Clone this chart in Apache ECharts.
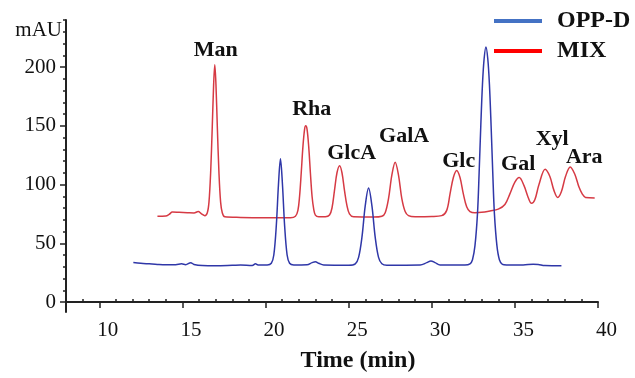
<!DOCTYPE html>
<html>
<head>
<meta charset="utf-8">
<script src="https://cdn.jsdelivr.net/npm/echarts@6.0.0/dist/echarts.min.js"></script>
<style>
  html, body { margin: 0; padding: 0; background: #fff; }
  #chart { width: 635px; height: 378px; }
</style>
</head>
<body>
<div id="chart"></div>
<script>
// MIX (red) trace
const mixTime = [13.5, 14.0, 14.2, 14.4, 14.8, 15.3, 15.7, 15.95, 16.15, 16.35, 16.5, 16.6, 16.7, 16.8, 16.88, 16.95, 17.02, 17.1, 17.2, 17.3, 17.4, 17.55, 18.5, 20.0, 21.5, 21.8, 21.95, 22.05, 22.15, 22.25, 22.35, 22.42, 22.5, 22.6, 22.7, 22.8, 22.9, 23.0, 23.2, 23.6, 23.85, 24.0, 24.15, 24.3, 24.46, 24.6, 24.75, 24.9, 25.05, 25.3, 26.5, 27.0, 27.2, 27.4, 27.6, 27.8, 28.0, 28.2, 28.4, 28.6, 29.0, 30.0, 30.6, 30.9, 31.1, 31.3, 31.5, 31.7, 31.9, 32.1, 32.3, 32.6, 33.0, 33.5, 34.0, 34.4, 34.7, 35.0, 35.26, 35.55, 35.8, 36.0, 36.2, 36.45, 36.82, 37.1, 37.35, 37.58, 37.8, 38.05, 38.33, 38.6, 38.85, 39.05, 39.25, 39.8]
const mixMAU = [73, 73.2, 74.5, 76.5, 76.3, 76, 75.8, 77, 75, 73.5, 76, 85, 110, 150, 185, 202, 185, 150, 110, 85, 76, 72.5, 72, 71.8, 71.8, 73, 78, 90, 110, 132, 147, 150, 147, 132, 110, 90, 79, 74, 72.5, 72.5, 74, 80, 95, 110, 116, 110, 95, 82, 75, 72.5, 72.3, 73, 76, 88, 108, 119, 108, 88, 77, 73.5, 72.5, 72.7, 73.5, 78, 92, 106, 112, 106, 92, 81, 77, 76, 76.3, 77.5, 79, 83, 92, 102, 106, 99, 89, 84, 87, 100, 113, 107, 95, 89, 94, 107, 115, 109, 98, 92, 89, 88.6]

// OPP-D (blue) trace
const oppTime = [12.05, 12.5, 13.0, 13.5, 14.0, 14.6, 14.95, 15.2, 15.5, 15.7, 16.2, 17.0, 18.0, 18.5, 19.2, 19.4, 19.55, 20.1, 20.35, 20.5, 20.65, 20.78, 20.9, 21.02, 21.15, 21.3, 21.45, 21.7, 22.5, 22.8, 23.0, 23.2, 23.5, 25.0, 25.4, 25.6, 25.8, 26.0, 26.2, 26.4, 26.6, 26.8, 27.0, 27.3, 29.3, 29.7, 29.95, 30.2, 30.5, 32.0, 32.3, 32.45, 32.6, 32.75, 32.85, 32.95, 33.05, 33.15, 33.26, 33.37, 33.47, 33.57, 33.67, 33.77, 33.92, 34.07, 34.25, 34.5, 35.5, 36.1, 36.4, 36.8, 37.8]
const oppMAU = [33.6, 33, 32.5, 32, 31.7, 31.7, 32.5, 31.8, 33.5, 32, 31, 30.8, 31.2, 31.5, 31, 32.5, 31.5, 31.5, 33, 40, 65, 100, 122, 100, 65, 40, 33, 31.5, 31.7, 33.5, 34.3, 33, 31.5, 31.3, 32.5, 38, 55, 82, 97, 82, 55, 38, 32.5, 31.3, 31.5, 33.5, 35, 33.5, 31.5, 31.5, 32.5, 36, 48, 75, 110, 150, 185, 207, 217, 207, 185, 150, 110, 75, 48, 36, 32, 31.5, 31.5, 32.2, 32, 31, 30.8]

// peak annotations on the MIX trace
const peakNames = ['Man', 'Rha', 'GlcA', 'GalA', 'Glc', 'Gal', 'Xyl', 'Ara']
const peakTimes = [16.95, 22.42, 24.46, 27.8, 31.5, 35.26, 36.82, 38.33]
const peakMAU = [202, 150, 116, 119, 112, 106, 113, 115]

const xTicks = [10, 15, 20, 25, 30, 35, 40]
const xMinor = [9, 11, 12, 13, 14, 16, 17, 18, 19, 21, 22, 23, 24, 26, 27, 28, 29, 31, 32, 33, 34, 36, 37, 38, 39]
const yTicks = [0, 50, 100, 150, 200]
const yMinor = [10, 20, 30, 40, 60, 70, 80, 90, 110, 120, 130, 140, 160, 170, 180, 190, 210, 220, 230, 240]

// label offsets (px) from the peak top to the text centre
const LABEL_OFFSET = [[1, -14], [6, -16], [12, -12], [9, -26], [2, -9], [-1, -13], [7, -30], [14, -10]]

const SERIF = "'Liberation Serif', 'Times New Roman', serif"
const INK = '#111'
const AXIS = '#222'

const chart = echarts.init(document.getElementById('chart'))

const xBase = { type: 'value', min: 8, max: 40, splitLine: { show: false } }
const yBase = { type: 'value', min: -8.5, max: 240, splitLine: { show: false } }

chart.setOption({
  animation: false,
  backgroundColor: '#fff',
  grid: { left: 66, right: 37, top: 20, bottom: 60 },
  legend: {
    orient: 'vertical',
    left: 494,
    top: 9,
    padding: 0,
    icon: 'rect',
    itemWidth: 48,
    itemHeight: 4,
    itemGap: 6,
    selectedMode: false,
    textStyle: { fontFamily: SERIF, fontWeight: 'bold', fontSize: 24, color: INK, padding: [0, 0, 0, 10] },
    data: [
      { name: 'OPP-D', itemStyle: { color: '#4472c4' } },
      { name: 'MIX', itemStyle: { color: '#ff0000' } },
    ],
  },
  xAxis: [
    {
      ...xBase,
      name: 'Time (min)',
      nameLocation: 'middle',
      nameGap: 37,
      nameTextStyle: { fontFamily: SERIF, fontWeight: 'bold', fontSize: 24, color: INK, padding: [0, 0, 0, 52] },
      axisLine: { lineStyle: { color: AXIS, width: 2 } },
      axisTick: { length: 6, customValues: xTicks, lineStyle: { color: AXIS, width: 1.5 } },
      axisLabel: { customValues: xTicks, margin: 8, padding: [0, 0, 0, 17], fontFamily: SERIF, fontSize: 21, color: INK },
    },
    {
      ...xBase,
      axisLine: { show: false },
      axisTick: { length: 3, customValues: xMinor, lineStyle: { color: AXIS, width: 1.5 } },
      axisLabel: { show: false },
    },
  ],
  yAxis: [
    {
      ...yBase,
      name: 'mAU',
      nameLocation: 'end',
      nameGap: -10,
      nameTextStyle: { fontFamily: SERIF, fontSize: 21, color: INK, align: 'right', verticalAlign: 'middle', padding: [0, 4, 0, 0] },
      axisLine: { show: true, lineStyle: { color: AXIS, width: 2 } },
      axisTick: { length: 6, customValues: yTicks, lineStyle: { color: AXIS, width: 1.5 } },
      axisLabel: { customValues: yTicks, margin: 10, fontFamily: SERIF, fontSize: 21, color: INK },
    },
    {
      ...yBase,
      position: 'left',
      axisLine: { show: false },
      axisTick: { show: true, length: 3, customValues: yMinor, lineStyle: { color: AXIS, width: 1.5 } },
      axisLabel: { show: false },
    },
  ],
  series: [
    {
      name: 'MIX',
      type: 'line',
      data: mixTime.map((t, i) => [t, mixMAU[i]]),
      smooth: 0.35,
      showSymbol: false,
      lineStyle: { color: '#d63a44', width: 1.5 },
      itemStyle: { color: '#d63a44' },
      z: 2,
      markPoint: {
        symbol: 'circle',
        symbolSize: 1,
        itemStyle: { color: 'transparent' },
        label: {
          show: true,
          position: 'inside',
          formatter: '{b}',
          fontFamily: SERIF,
          fontWeight: 'bold',
          fontSize: 22,
          color: INK,
        },
        data: peakNames.map((n, i) => ({
          name: n,
          coord: [peakTimes[i], peakMAU[i]],
          label: { offset: LABEL_OFFSET[i] },
        })),
      },
    },
    {
      name: 'OPP-D',
      type: 'line',
      data: oppTime.map((t, i) => [t, oppMAU[i]]),
      smooth: 0.35,
      showSymbol: false,
      lineStyle: { color: '#2f37a8', width: 1.5 },
      itemStyle: { color: '#2f37a8' },
      z: 3,
    },
  ],
})
</script>
</body>
</html>
